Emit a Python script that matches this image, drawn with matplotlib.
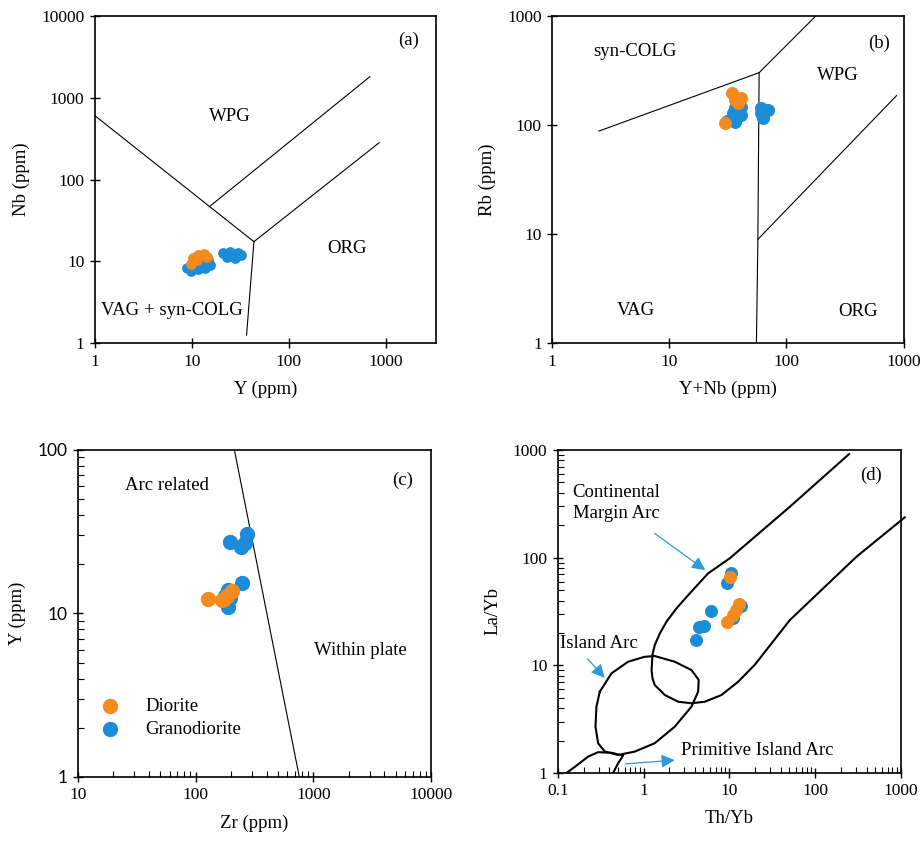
import matplotlib
matplotlib.use("Agg")
import matplotlib.pyplot as plt
from matplotlib.ticker import LogLocator, NullLocator, NullFormatter, FuncFormatter

plt.rcParams['font.family'] = ['Liberation Serif', 'DejaVu Serif']
plt.rcParams['font.size'] = 12.5

ORANGE = '#F58A1F'
BLUE = '#1A8CD8'
ARROW = '#2E9AD8'

# ---- (a) Nb vs Y ----
a_dio_y = [9.9, 10.3, 11.6, 13.3, 14.2, 11.2]
a_dio_nb = [9.4, 10.9, 11.9, 12.3, 11.4, 10.4]
a_gra_y = [8.8, 9.9, 11.6, 13.6, 15.3, 14.7, 10.3, 12.6,
           20.7, 22.8, 25.7, 27.8, 30.0, 31.8, 24.6]
a_gra_nb = [8.2, 7.7, 8.0, 8.2, 9.0, 10.4, 9.4, 9.0,
            12.5, 11.4, 11.9, 10.9, 12.5, 11.9, 13.0]
a_line1 = ([1, 43.6], [603, 17.4])
a_line2 = ([15.1, 684], [46.5, 1808])
a_line3 = ([43.6, 853], [17.4, 282])
a_line4 = ([43.6, 36.6], [17.4, 1.25])

# ---- (b) Rb vs Y+Nb ----
b_dio_x = [34.4, 41.2, 36.6, 29.7, 38.5]
b_dio_rb = [198, 178, 170, 105, 160]
b_gra_x = [31.0, 36.1, 40.7, 36.6, 41.2, 34.9, 61.1, 69.7, 63.2, 61.0]
b_gra_rb = [110, 142, 147, 107, 123, 128, 142, 137, 115, 128]
b_line1 = ([2.5, 58.4, 178], [88, 302, 1000])
b_line2 = ([58.4, 57.0, 55.4], [302, 9.0, 1])
b_line3 = ([57.3, 871], [9.0, 186])

# ---- (c) Y vs Zr ----
c_dio_zr = [126, 166, 174, 183, 202]
c_dio_y = [12.2, 12.0, 12.2, 12.7, 13.8]
c_gra_zr = [195, 271, 262, 241, 249, 189, 189, 177, 195]
c_gra_y = [27.5, 30.6, 26.9, 25.4, 15.3, 13.9, 11.0, 12.7, 12.5]
c_line = ([213, 759], [100, 1])

# ---- (d) La/Yb vs Th/Yb ----
d_dio_th = [10.2, 13.0, 9.5, 10.9, 11.9]
d_dio_la = [66.5, 37.1, 25.4, 29.3, 32.6]
d_gra_th = [4.07, 4.44, 5.08, 6.08, 9.52, 10.4, 13.6, 10.9]
d_gra_la = [17.2, 22.8, 23.2, 31.9, 57.7, 71.5, 35.5, 27.3]
# field outlines
cma_th = [249, 50.8, 10.1, 5.66, 3.46, 2.42, 1.85, 1.55, 1.35, 1.27, 1.24, 1.27, 1.35,
          1.77, 2.53, 3.62, 5.18, 8.11, 12.7, 19.8, 50.8, 304, 1114]
cma_la = [916, 297, 98.5, 71.5, 46.6, 33.8, 25.4, 19.8, 15.4, 12.5, 9.04, 7.6, 6.56,
          5.30, 4.59, 4.44, 4.59, 5.30, 7.04, 10.1, 26.3, 102, 237]
ia_th = [0.309, 0.282, 0.275, 0.295, 0.353, 0.505, 0.791, 1.35, 2.31, 3.62, 4.33,
         4.40, 3.62, 2.31, 1.35, 1.03, 0.661, 0.423, 0.309]
ia_la = [5.69, 4.13, 2.69, 1.89, 1.58, 1.47, 1.58, 1.89, 2.69, 4.13, 5.69,
         7.31, 9.04, 10.8, 12.2, 12.0, 10.8, 8.43, 5.69]
pia_th = [0.118, 0.158, 0.226, 0.295, 0.423, 0.578, 0.505, 0.441, 0.41]
pia_la = [0.96, 1.14, 1.42, 1.56, 1.54, 1.45, 1.23, 1.0, 0.93]


def fmt(v, pos):
    return f'{v:g}'


def style_axis(ax, minor):
    ax.set_xscale('log')
    ax.set_yscale('log')
    ax.xaxis.set_major_formatter(FuncFormatter(fmt))
    ax.yaxis.set_major_formatter(FuncFormatter(fmt))
    ax.tick_params(which='major', direction='inout', length=7, width=1,
                   top=False, right=False, labelsize=12.5, pad=4)
    if minor:
        ax.xaxis.set_minor_locator(LogLocator(subs=range(2, 10), numticks=20))
        ax.yaxis.set_minor_locator(LogLocator(subs=range(2, 10), numticks=20))
        ax.tick_params(which='minor', direction='in', length=4, width=0.8,
                       top=False, right=False)
    else:
        ax.xaxis.set_minor_locator(NullLocator())
        ax.yaxis.set_minor_locator(NullLocator())
    ax.xaxis.set_minor_formatter(NullFormatter())
    ax.yaxis.set_minor_formatter(NullFormatter())
    for s in ax.spines.values():
        s.set_linewidth(1.2)


fig = plt.figure(figsize=(9.22, 8.41), dpi=100)

# (a)
ax = fig.add_axes([0.103, 0.592, 0.370, 0.389])
style_axis(ax, False)
for xs, ys in [a_line1, a_line2, a_line3, a_line4]:
    ax.plot(xs, ys, color='black', lw=0.8)
ax.scatter(a_gra_y, a_gra_nb, s=45, color=BLUE, zorder=3)
ax.scatter(a_dio_y, a_dio_nb, s=45, color=ORANGE, zorder=4)
ax.set_xlim(1, 3300)
ax.set_ylim(1, 10000)
ax.set_yticks([1, 10, 100, 1000, 10000])
ax.set_xticks([1, 10, 100, 1000])
ax.text(0.396, 0.692, 'WPG', transform=ax.transAxes, ha='center', va='center', fontsize=13.5)
ax.text(0.738, 0.29, 'ORG', transform=ax.transAxes, ha='center', va='center', fontsize=13.5)
ax.text(0.225, 0.10, 'VAG + syn-COLG', transform=ax.transAxes, ha='center', va='center', fontsize=13.5)
ax.text(0.918, 0.925, '(a)', transform=ax.transAxes, ha='center', va='center', fontsize=13.5)
ax.set_xlabel('Y (ppm)', fontsize=13.5, labelpad=8)
ax.set_ylabel('Nb (ppm)', fontsize=13.5, labelpad=8)

# (b)
ax = fig.add_axes([0.599, 0.592, 0.381, 0.389])
style_axis(ax, False)
for xs, ys in [b_line1, b_line2, b_line3]:
    ax.plot(xs, ys, color='black', lw=0.8)
ax.scatter(b_gra_x, b_gra_rb, s=70, color=BLUE, zorder=3)
ax.scatter(b_dio_x, b_dio_rb, s=70, color=ORANGE, zorder=4)
ax.set_xlim(1, 1000)
ax.set_ylim(1, 1000)
ax.set_xticks([1, 10, 100, 1000])
ax.set_yticks([1, 10, 100, 1000])
ax.text(0.234, 0.891, 'syn-COLG', transform=ax.transAxes, ha='center', va='center', fontsize=13.5)
ax.text(0.814, 0.817, 'WPG', transform=ax.transAxes, ha='center', va='center', fontsize=13.5)
ax.text(0.239, 0.10, 'VAG', transform=ax.transAxes, ha='center', va='center', fontsize=13.5)
ax.text(0.871, 0.096, 'ORG', transform=ax.transAxes, ha='center', va='center', fontsize=13.5)
ax.text(0.931, 0.917, '(b)', transform=ax.transAxes, ha='center', va='center', fontsize=13.5)
ax.set_xlabel('Y+Nb (ppm)', fontsize=13.5, labelpad=8)
ax.set_ylabel('Rb (ppm)', fontsize=13.5, labelpad=8)

# (c)
ax = fig.add_axes([0.0846, 0.0761, 0.383, 0.389])
style_axis(ax, True)
ax.plot(c_line[0], c_line[1], color='black', lw=0.8)
ax.scatter(c_dio_zr, c_dio_y, s=100, color=ORANGE, zorder=4, label='Diorite')
ax.scatter(c_gra_zr, c_gra_y, s=100, color=BLUE, zorder=3, label='Granodiorite')
ax.set_xlim(10, 10000)
ax.set_ylim(1, 100)
ax.set_xticks([10, 100, 1000, 10000])
ax.set_yticks([1, 10, 100])
for lab in ax.get_yticklabels():
    lab.set_fontfamily('Lato')
ax.text(0.251, 0.89, 'Arc related', transform=ax.transAxes, ha='center', va='center', fontsize=13.5)
ax.text(0.80, 0.388, 'Within plate', transform=ax.transAxes, ha='center', va='center', fontsize=13.5)
ax.text(0.92, 0.908, '(c)', transform=ax.transAxes, ha='center', va='center', fontsize=13.5)
ax.legend(loc='lower left', bbox_to_anchor=(0.0, 0.08), frameon=False, fontsize=13.5,
          handletextpad=0.9, labelspacing=0.3, borderaxespad=0.3)
ax.set_xlabel('Zr (ppm)', fontsize=13.5, labelpad=8)
ax.set_ylabel('Y (ppm)', fontsize=13.5, labelpad=8)

# (d)
ax = fig.add_axes([0.605, 0.0809, 0.372, 0.384])
style_axis(ax, True)
ax.plot(cma_th, cma_la, color='black', lw=1.5, clip_on=False)
ax.plot(ia_th, ia_la, color='black', lw=1.5)
ax.plot(pia_th, pia_la, color='black', lw=1.5)
ax.scatter(d_gra_th, d_gra_la, s=70, color=BLUE, zorder=3)
ax.scatter(d_dio_th, d_dio_la, s=70, color=ORANGE, zorder=4)
ax.annotate('', xy=(5.57, 74.0), xytext=(1.27, 174),
            arrowprops=dict(arrowstyle='-|>', color=ARROW, lw=0.9, mutation_scale=20))
ax.annotate('', xy=(0.370, 7.31), xytext=(0.212, 12.0),
            arrowprops=dict(arrowstyle='-|>', color=ARROW, lw=0.9, mutation_scale=20))
ax.annotate('', xy=(2.49, 1.32), xytext=(0.569, 1.21),
            arrowprops=dict(arrowstyle='-|>', color=ARROW, lw=0.9, mutation_scale=20))
ax.set_xlim(0.1, 1000)
ax.set_ylim(1, 1000)
ax.set_xticks([0.1, 1, 10, 100, 1000])
ax.set_yticks([1, 10, 100, 1000])
ax.text(0.043, 0.836, 'Continental\nMargin Arc', transform=ax.transAxes, ha='left', va='center',
        fontsize=13.5, linespacing=1.3)
ax.text(0.007, 0.40, 'Island Arc', transform=ax.transAxes, ha='left', va='center', fontsize=13.5)
ax.text(0.359, 0.069, 'Primitive Island Arc', transform=ax.transAxes, ha='left', va='center',
        fontsize=13.5)
ax.text(0.913, 0.923, '(d)', transform=ax.transAxes, ha='center', va='center', fontsize=13.5)
ax.set_xlabel('Th/Yb', fontsize=13.5, labelpad=8)
ax.set_ylabel('La/Yb', fontsize=13.5, labelpad=8)

fig.savefig('out.png', dpi=100)
